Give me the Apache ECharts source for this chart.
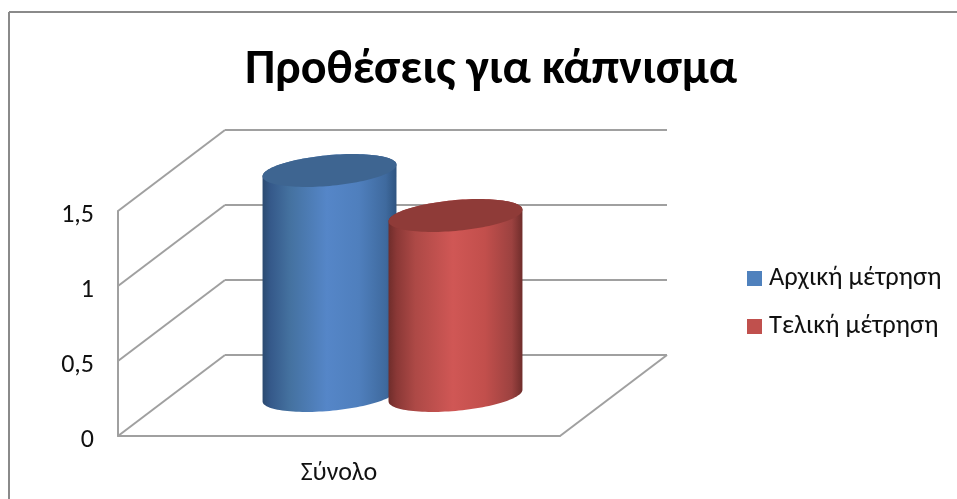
<!DOCTYPE html>
<html>
<head>
<meta charset="utf-8">
<style>html,body{margin:0;padding:0;background:#fff}#c{width:957px;height:499px}</style>
<script src="https://cdn.jsdelivr.net/npm/echarts@6/dist/echarts.min.js"></script>
</head>
<body>
<div id="c"></div>
<script>
var chartTitle = 'Προθέσεις για κάπνισμα';
var categories = ['Σύνολο'];
var seriesNames = ['Αρχική μέτρηση', 'Τελική μέτρηση'];
var initialValues = [1.5];
var finalValues = [1.2];
var yTicks = [0, 0.5, 1, 1.5];

var FONT = 'Carlito, Lato, "Open Sans", "Noto Sans", sans-serif';
var LINE = '#a0a0a0';
var DEPTH_X = 107, DEPTH_Y = 81;

function wallItem(params, api) {
  var v = api.value(1);
  var p = api.coord([api.value(0), v]);
  var band = api.size([1, 0])[0];
  var lx = p[0] - band / 2;
  var style = { stroke: LINE, lineWidth: 2, fill: null };
  var kids = [
    { type: 'line', shape: { x1: lx, y1: p[1], x2: lx + DEPTH_X, y2: p[1] - DEPTH_Y }, style: style },
    { type: 'line', shape: { x1: lx + DEPTH_X, y1: p[1] - DEPTH_Y, x2: lx + band + DEPTH_X, y2: p[1] - DEPTH_Y }, style: style }
  ];
  if (v === 0) {
    kids.push({ type: 'line', shape: { x1: lx + band, y1: p[1], x2: lx + band + DEPTH_X, y2: p[1] - DEPTH_Y }, style: style });
  }
  return { type: 'group', children: kids };
}

function ellipsePts(cx, cy, a, b, shear, from, to, n) {
  var pts = [];
  for (var i = 0; i <= n; i++) {
    var t = from + (to - from) * i / n;
    pts.push([cx + a * Math.cos(t), cy + b * Math.sin(t) - shear * Math.cos(t)]);
  }
  return pts;
}

function cylinder(offsetRatio, stops, topColor) {
  return function (params, api) {
    var base = api.coord([api.value(0), 0]);
    var top = api.coord([api.value(0), api.value(1)]);
    var band = api.size([1, 0])[0];
    var cx = base[0] + DEPTH_X / 2 + band * offsetRatio;
    var a = band * 0.1515, b = 15.4, shear = 5.8;
    var by = base[1] - DEPTH_Y / 2, ty = top[1] - DEPTH_Y / 2;
    var lower = ellipsePts(cx, by, a, b, shear, Math.PI, 0, 60);
    var upperArc = ellipsePts(cx, ty, a, b, shear, 0, -Math.PI, 60);
    var body = lower.concat(upperArc);
    return {
      type: 'group',
      children: [
        { type: 'polygon', shape: { points: body },
          style: { fill: new echarts.graphic.LinearGradient(0, 0, 1, 0, stops) } },
        { type: 'polygon', shape: { points: ellipsePts(cx, ty, a, b, shear, 0, Math.PI * 2, 120) },
          style: { fill: topColor } }
      ]
    };
  };
}

var blueStops = [
  { offset: 0, color: '#2b4a70' }, { offset: 0.06, color: '#35598a' },
  { offset: 0.2, color: '#44719f' }, { offset: 0.48, color: '#5586c8' },
  { offset: 0.72, color: '#4f7fbd' }, { offset: 0.92, color: '#3f6a9e' },
  { offset: 1, color: '#2f5480' }
];
var redStops = [
  { offset: 0, color: '#6f2d2b' }, { offset: 0.06, color: '#8a3836' },
  { offset: 0.2, color: '#ad4946' }, { offset: 0.48, color: '#d05755' },
  { offset: 0.72, color: '#c24f4c' }, { offset: 0.92, color: '#9c4240' },
  { offset: 1, color: '#6f2d2b' }
];

var chart = echarts.init(document.getElementById('c'), null, { renderer: 'canvas' });
chart.setOption({
  animation: false,
  backgroundColor: '#fff',
  title: {
    text: chartTitle, left: 486, top: 42, textAlign: 'center',
    textStyle: { fontFamily: FONT, fontSize: 48, fontWeight: 'bold', color: '#000' }
  },
  legend: {
    left: 742, top: 260, orient: 'vertical', itemWidth: 15, itemHeight: 15, itemGap: 21,
    icon: 'rect', data: seriesNames, selectedMode: false,
    textStyle: { fontFamily: FONT, fontSize: 26.5, color: '#111', padding: [0, 0, 0, 2] }
  },
  grid: { left: 118, right: 397, top: 211, bottom: 63 },
  xAxis: {
    type: 'category', data: categories,
    axisLine: { lineStyle: { color: LINE, width: 2 } }, axisTick: { show: false },
    axisLabel: { margin: 24, fontFamily: FONT, fontSize: 26, color: '#111' }
  },
  yAxis: {
    type: 'value', min: 0, max: 1.5, interval: 0.5,
    axisLine: { show: true, lineStyle: { color: LINE, width: 2 } }, axisTick: { show: false },
    splitLine: { show: false },
    axisLabel: {
      margin: 24, fontFamily: FONT, fontSize: 26, color: '#111',
      verticalAlign: 'top', lineHeight: 8,
      formatter: function (v) { return String(v).replace('.', ','); }
    }
  },
  graphic: [
    { type: 'line', silent: true, shape: { x1: 9, y1: 499, x2: 9, y2: 12 }, style: { stroke: '#8a8a8a', lineWidth: 2 } },
    { type: 'line', silent: true, shape: { x1: 9, y1: 12, x2: 957, y2: 12 }, style: { stroke: '#8a8a8a', lineWidth: 2 } }
  ],
  series: [
    { type: 'custom', name: 'walls', silent: true, z: 1, clip: false,
      renderItem: wallItem, encode: { x: 0, y: 1 },
      data: yTicks.map(function (t) { return [categories[0], t]; }) },
    { type: 'custom', name: seriesNames[0], z: 3, clip: false,
      itemStyle: { color: '#4f81bd' },
      renderItem: cylinder(-0.1425, blueStops, '#3e6591'), encode: { x: 0, y: 1 },
      data: categories.map(function (c, i) { return [c, initialValues[i]]; }) },
    { type: 'custom', name: seriesNames[1], z: 4, clip: false,
      itemStyle: { color: '#c0504d' },
      renderItem: cylinder(0.1425, redStops, '#8f3b38'), encode: { x: 0, y: 1 },
      data: categories.map(function (c, i) { return [c, finalValues[i]]; }) }
  ]
});
</script>
</body>
</html>
